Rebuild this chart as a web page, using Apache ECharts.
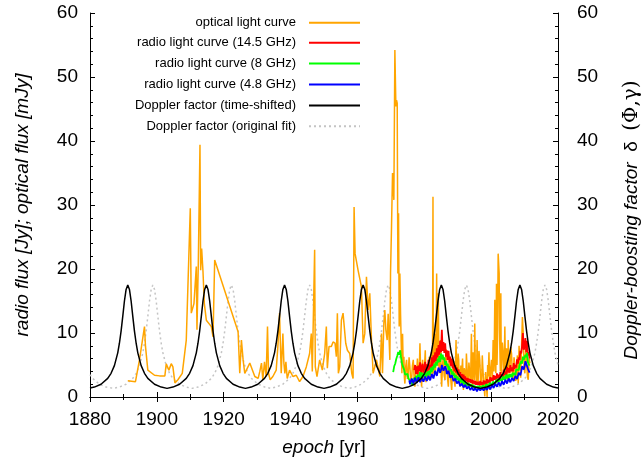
<!DOCTYPE html>
<html>
<head>
<meta charset="utf-8">
<script src="https://cdn.jsdelivr.net/npm/echarts@6/dist/echarts.min.js"></script>
<style>html,body{margin:0;padding:0;background:#fff}#c{width:642px;height:464px}</style>
</head>
<body>
<div id="c"></div>
<script>
// ---------- data ----------
const xTicks = [1880, 1900, 1920, 1940, 1960, 1980, 2000, 2020];
const yTicks = [0, 10, 20, 30, 40, 50, 60];
const seriesNames = [
  'optical light curve',
  'radio light curve (14.5 GHz)',
  'radio light curve (8 GHz)',
  'radio light curve (4.8 GHz)',
  'Doppler factor (time-shifted)',
  'Doppler factor (original fit)'
];

// optical light curve [year, mJy]
const optical = [
 [1891.3,2.55],[1893.6,2.4],[1894.8,5.8],[1896.3,11.0],[1896.6,7.9],[1897.3,4.2],[1899.3,3.4],[1900.8,3.3],
 [1902.4,3.3],[1902.8,5.2],[1903.6,4.2],[1904.3,5.2],[1904.8,4.7],[1905.3,5.0],[1905.4,2.2],[1906.3,2.7],
 [1907.6,3.7],[1908.8,8.9],[1910.0,29.5],[1910.3,13.1],[1911.1,14.6],[1911.8,20.4],[1912.0,10.5],[1912.4,20.9],
 [1912.9,39.4],[1913.1,19.8],[1913.4,23.2],[1913.8,19.6],[1914.2,14.6],[1914.8,12.0],[1916.3,11.0],[1916.8,9.4],
 [1917.3,21.4],[1924.3,10.2],[1924.8,3.7],[1925.3,8.9],[1925.8,5.8],[1926.3,3.7],[1927.8,5.3],[1929.3,3.2],
 [1930.3,2.9],[1930.8,4.0],[1931.3,5.3],[1931.7,2.7],[1932.2,5.5],[1932.7,3.2],[1933.1,11.0],[1933.4,3.7],
 [1933.9,2.7],[1934.7,3.2],[1935.7,4.2],[1936.2,7.9],[1936.7,13.1],[1937.2,3.7],[1937.7,9.9],[1938.0,5.3],
 [1938.3,3.7],[1938.6,5.5],[1939.0,2.9],[1939.7,4.2],[1940.7,3.2],[1941.7,3.4],[1942.7,2.4],[1943.7,3.2],
 [1944.7,4.7],[1945.7,6.8],[1946.2,9.9],[1946.5,4.0],[1946.9,4.2],[1947.2,23.0],[1947.4,4.7],[1947.9,3.2],
 [1948.7,5.8],[1949.5,4.2],[1950.2,6.8],[1950.7,11.0],[1951.0,4.5],[1951.5,7.9],[1952.2,7.9],[1952.7,8.6],
 [1953.3,8.4],[1953.7,6.3],[1954.0,13.1],[1954.3,3.7],[1954.7,4.7],[1955.2,12.0],[1955.7,13.1],[1956.2,13.1],
 [1956.5,8.4],[1957.0,7.3],[1957.7,6.8],[1958.3,3.7],[1958.7,2.9],[1959.0,29.7],[1959.3,22.4],[1960.2,19.8],
 [1961.2,17.2],[1961.7,8.4],[1962.2,9.9],[1962.7,18.8],[1963.2,13.6],[1963.7,16.2],[1964.2,8.9],[1964.7,3.7],
 [1965.7,5.8],[1966.7,3.2],[1967.2,9.9],[1967.5,3.7],[1967.9,11.5],[1968.2,13.6],[1968.5,10.5],[1968.9,8.9],
 [1969.2,13.0],[1969.7,5.8],[1969.9,19.3],[1970.2,26.6],[1970.5,35.0],[1970.9,30.8],[1971.2,54.2],[1971.5,45.4],
 [1971.7,46.4],[1971.9,45.9],[1972.1,19.3],[1972.3,28.7],[1972.5,11.0],[1972.7,19.3],[1972.9,13.0],
 [1973.3,3.7],[1973.5,9.9],[1973.7,4.5],[1973.9,6.3],[1974.05,3.0],[1974.2,2.1],[1974.45,4.8],[1974.7,5.8],
 [1974.95,2.8],[1975.2,3.7],[1975.45,6.2],[1975.7,4.7],[1975.95,2.2],[1976.2,2.7],[1976.45,4.9],[1976.7,5.8],
 [1976.95,3.1],[1977.2,1.6],[1977.45,4.4],[1977.7,3.7],[1977.95,6.0],[1978.2,4.2],[1978.45,2.6],[1978.7,8.4],
 [1978.95,3.3],[1979.2,1.6],[1979.35,4.2],[1979.5,5.8],[1979.7,2.4],[1979.9,3.7],[1980.1,5.2],[1980.3,7.3],
 [1980.5,2.3],[1980.7,3.2],[1980.95,5.1],[1981.2,2.7],[1981.35,4.5],[1981.5,6.3],[1981.7,2.9],[1981.9,3.7],
 [1982.1,7.0],[1982.3,5.3],[1982.45,3.0],[1982.6,31.3],[1982.7,4.5],[1982.8,3.7],[1983.0,7.5],[1983.2,9.9],
 [1983.35,4.0],[1983.5,6.3],[1983.6,12.0],[1983.7,19.3],[1983.85,5.5],[1984.0,8.9],[1984.1,4.8],[1984.2,16.2],
 [1984.35,6.0],[1984.5,3.7],[1984.7,7.2],[1984.9,8.9],[1985.05,3.5],[1985.2,1.6],[1985.45,5.0],[1985.7,6.3],
 [1985.95,3.3],[1986.2,2.7],[1986.45,7.5],[1986.7,5.8],[1986.95,2.9],[1987.2,1.6],[1987.45,5.5],[1987.7,4.2],
 [1987.95,2.5],[1988.2,1.1],[1988.45,4.0],[1988.7,5.8],[1988.95,2.7],[1989.2,1.6],[1989.35,5.0],[1989.5,8.9],
 [1989.7,2.8],[1989.9,3.7],[1990.1,6.8],[1990.3,5.8],[1990.5,2.5],[1990.7,1.6],[1990.95,4.9],[1991.2,3.7],
 [1991.45,6.0],[1991.7,1.1],[1991.95,4.5],[1992.2,3.7],[1992.4,1.8],[1992.6,6.8],[1992.85,3.9],[1993.1,1.6],
 [1993.35,5.4],[1993.6,3.7],[1993.85,2.2],[1994.1,9.9],[1994.25,4.0],[1994.4,1.6],[1994.6,7.0],[1994.8,4.7],
 [1994.95,2.6],[1995.1,11.5],[1995.25,5.2],[1995.4,3.7],[1995.6,2.0],[1995.8,8.9],[1995.95,4.2],[1996.1,2.1],
 [1996.35,7.2],[1996.6,5.8],[1996.85,2.5],[1997.1,1.1],[1997.35,6.5],[1997.6,3.7],[1997.85,1.9],[1998.1,0.1],
 [1998.35,3.9],[1998.6,1.6],[1998.8,0.0],[1998.95,5.0],[1999.1,3.2],[1999.35,7.0],[1999.6,1.1],[1999.85,4.4],
 [2000.1,5.8],[2000.35,2.6],[2000.6,8.9],[2000.85,4.0],[2001.1,15.2],[2001.25,6.0],[2001.4,3.7],[2001.6,17.7],
 [2001.75,5.0],[2001.9,8.9],[2002.1,22.4],[2002.4,19.3],[2002.5,10.5],[2002.6,7.9],[2002.75,4.0],[2002.9,16.2],
 [2003.0,6.5],[2003.1,3.7],[2003.35,8.5],[2003.6,6.8],[2003.85,2.8],[2004.1,11.0],[2004.25,5.0],[2004.4,3.7],
 [2004.6,7.6],[2004.8,5.8],[2004.95,2.4],[2005.1,8.9],[2005.35,4.5],[2005.6,3.7],[2005.85,7.8],[2006.1,6.8],
 [2006.35,3.2],[2006.6,2.7],[2006.85,6.2],[2007.1,4.7],[2007.35,2.5],[2007.6,3.7],[2007.85,6.5],[2008.1,2.1],
 [2008.35,8.0],[2008.6,5.8],[2008.85,3.0],[2009.1,7.9],[2009.35,12.5],[2009.6,9.9],[2009.85,4.6],[2010.1,3.7],
 [2010.35,7.5],[2010.6,5.8],[2010.85,3.2],[2011.1,2.7],[2011.35,6.0],[2011.6,5.3]
];

// radio 14.5 GHz [year, Jy]
const radio145 = [
 [1977.00,4.2],[1977.25,5.0],[1977.50,3.6],[1977.75,4.8],[1978.00,3.5],[1978.25,4.9],[1978.50,4.1],[1978.75,5.4],
 [1979.00,3.6],[1979.25,4.7],[1979.50,5.2],[1979.75,3.8],[1980.00,4.4],[1980.25,5.5],[1980.50,3.9],[1980.75,5.1],
 [1981.00,4.0],[1981.25,5.8],[1981.50,4.3],[1981.75,5.0],[1982.00,4.5],[1982.25,6.2],[1982.50,4.8],[1982.75,6.5],
 [1983.00,5.4],[1983.25,7.0],[1983.50,5.6],[1983.75,7.6],[1984.00,6.2],[1984.25,8.1],[1984.50,6.6],[1984.75,8.8],
 [1985.00,7.0],[1985.25,10.5],[1985.50,7.2],[1985.75,8.6],[1986.00,6.9],[1986.25,8.4],[1986.50,6.3],[1986.75,7.3],
 [1987.00,5.8],[1987.25,7.2],[1987.50,5.4],[1987.75,6.3],[1988.00,4.8],[1988.25,6.0],[1988.50,4.5],[1988.75,5.2],
 [1989.00,4.0],[1989.25,5.0],[1989.50,3.8],[1989.75,4.6],[1990.00,3.5],[1990.25,4.3],[1990.50,3.2],[1990.75,3.9],
 [1991.00,3.0],[1991.25,3.6],[1991.50,2.8],[1991.75,3.5],[1992.00,2.7],[1992.25,3.2],[1992.50,2.5],[1992.75,3.0],
 [1993.00,2.3],[1993.25,2.9],[1993.50,2.3],[1993.75,2.8],[1994.00,2.2],[1994.25,2.7],[1994.50,2.1],[1994.75,2.6],
 [1995.00,2.0],[1995.25,2.5],[1995.50,1.9],[1995.75,2.4],[1996.00,1.9],[1996.25,2.4],[1996.50,1.8],[1996.75,2.5],
 [1997.00,1.9],[1997.25,2.3],[1997.50,1.9],[1997.75,2.6],[1998.00,2.0],[1998.25,2.5],[1998.50,2.0],[1998.75,2.8],
 [1999.00,2.2],[1999.25,2.7],[1999.50,2.2],[1999.75,3.1],[2000.00,2.5],[2000.25,3.0],[2000.50,2.5],[2000.75,3.4],
 [2001.00,2.7],[2001.25,3.3],[2001.50,2.7],[2001.75,3.7],[2002.00,2.9],[2002.25,3.5],[2002.50,2.9],[2002.75,3.9],
 [2003.00,3.1],[2003.25,3.6],[2003.50,3.1],[2003.75,4.3],[2004.00,3.4],[2004.25,4.0],[2004.50,3.4],[2004.75,4.7],
 [2005.00,3.8],[2005.25,4.5],[2005.50,3.8],[2005.75,5.0],[2006.00,4.0],[2006.25,4.6],[2006.50,4.0],[2006.75,5.3],
 [2007.00,4.4],[2007.25,5.0],[2007.50,4.6],[2007.75,5.9],[2008.00,5.2],[2008.25,6.2],[2008.50,5.8],[2008.75,7.2],
 [2009.00,6.8],[2009.25,8.0],[2009.50,10.0],[2009.75,7.4],[2010.00,7.8],[2010.25,9.2],[2010.50,7.0],[2010.75,8.8],
 [2011.00,6.5],[2011.25,7.0],[2011.50,6.0]
];

// radio 8 GHz [year, Jy]
const radio8 = [
 [1970.7,3.9],[1971.0,4.8],[1971.3,5.2],[1971.6,5.9],[1971.9,6.4],[1972.2,7.0],[1972.5,6.6],[1972.8,7.3],
 [1973.0,6.3],[1973.2,6.0],[1973.4,5.1],[1973.6,4.8],[1973.8,5.0],[1974.0,4.2],[1974.25,3.5],[1974.5,3.3],
 [1974.75,3.8],[1975.0,3.6],[1975.25,2.9],[1975.5,2.7],[1975.75,3.0],[1976.0,2.4],[1976.25,2.1],[1976.5,1.8],
 [1976.75,2.6],
 [1977.00,3.0],[1977.25,2.4],[1977.50,3.3],[1977.75,2.6],[1978.00,3.5],[1978.25,2.6],[1978.50,3.2],[1978.75,3.9],
 [1979.00,3.0],[1979.25,3.8],[1979.50,3.0],[1979.75,3.7],[1980.00,3.9],[1980.25,3.1],[1980.50,3.8],[1980.75,3.2],
 [1981.00,4.0],[1981.25,3.4],[1981.50,4.1],[1981.75,3.5],[1982.00,4.6],[1982.25,3.9],[1982.50,4.8],[1982.75,4.2],
 [1983.00,5.2],[1983.25,4.6],[1983.50,5.5],[1983.75,4.9],[1984.00,6.0],[1984.25,5.4],[1984.50,6.4],[1984.75,5.5],
 [1985.00,6.8],[1985.25,5.9],[1985.50,6.6],[1985.75,5.8],[1986.00,6.2],[1986.25,5.0],[1986.50,5.6],[1986.75,4.8],
 [1987.00,5.2],[1987.25,4.2],[1987.50,4.8],[1987.75,4.0],[1988.00,4.4],[1988.25,3.5],[1988.50,4.0],[1988.75,3.3],
 [1989.00,3.7],[1989.25,2.9],[1989.50,3.4],[1989.75,2.7],[1990.00,3.2],[1990.25,2.5],[1990.50,2.9],[1990.75,2.3],
 [1991.00,2.8],[1991.25,2.2],[1991.50,2.6],[1991.75,2.0],[1992.00,2.5],[1992.25,1.9],[1992.50,2.3],[1992.75,1.7],
 [1993.00,2.2],[1993.25,1.7],[1993.50,2.1],[1993.75,1.6],[1994.00,2.0],[1994.25,1.5],[1994.50,1.9],[1994.75,1.4],
 [1995.00,1.8],[1995.25,1.4],[1995.50,1.7],[1995.75,1.3],[1996.00,1.7],[1996.25,1.3],[1996.50,1.7],[1996.75,1.4],
 [1997.00,1.7],[1997.25,1.4],[1997.50,1.8],[1997.75,1.5],[1998.00,1.8],[1998.25,1.5],[1998.50,2.0],[1998.75,1.7],
 [1999.00,2.0],[1999.25,1.7],[1999.50,2.2],[1999.75,1.9],[2000.00,2.3],[2000.25,1.9],[2000.50,2.4],[2000.75,2.1],
 [2001.00,2.5],[2001.25,2.1],[2001.50,2.7],[2001.75,2.3],[2002.00,2.8],[2002.25,2.3],[2002.50,2.9],[2002.75,2.5],
 [2003.00,2.9],[2003.25,2.5],[2003.50,3.2],[2003.75,2.7],[2004.00,3.2],[2004.25,2.7],[2004.50,3.5],[2004.75,2.9],
 [2005.00,3.5],[2005.25,2.9],[2005.50,3.6],[2005.75,3.1],[2006.00,3.6],[2006.25,3.1],[2006.50,3.8],[2006.75,3.4],
 [2007.00,3.8],[2007.25,3.4],[2007.50,4.3],[2007.75,4.0],[2008.00,4.4],[2008.25,4.2],[2008.50,5.0],[2008.75,4.8],
 [2009.00,5.6],[2009.25,5.2],[2009.50,6.3],[2009.75,5.8],[2010.00,5.8],[2010.25,6.6],[2010.50,6.2],[2010.75,6.9],
 [2011.00,5.4],[2011.25,5.6],[2011.50,4.9]
];

// radio 4.8 GHz [year, Jy]
const radio48 = [
 [1975.50,2.6],[1975.75,2.0],
 [1976.00,2.2],[1976.25,2.9],[1976.50,2.8],[1976.75,2.1],[1977.00,2.3],[1977.25,3.0],[1977.50,2.9],[1977.75,2.2],
 [1978.00,2.4],[1978.25,3.1],[1978.50,3.0],[1978.75,2.3],[1979.00,2.4],[1979.25,3.0],[1979.50,2.9],[1979.75,2.4],
 [1980.00,2.5],[1980.25,3.2],[1980.50,3.0],[1980.75,2.5],[1981.00,2.6],[1981.25,3.3],[1981.50,3.2],[1981.75,2.6],
 [1982.00,2.8],[1982.25,3.6],[1982.50,3.6],[1982.75,2.9],[1983.00,3.2],[1983.25,4.1],[1983.50,4.0],[1983.75,3.3],
 [1984.00,3.6],[1984.25,4.6],[1984.50,4.6],[1984.75,3.8],[1985.00,4.2],[1985.25,5.0],[1985.50,5.0],[1985.75,4.1],
 [1986.00,4.3],[1986.25,4.8],[1986.50,4.4],[1986.75,3.6],[1987.00,3.6],[1987.25,4.1],[1987.50,3.8],[1987.75,3.0],
 [1988.00,3.0],[1988.25,3.4],[1988.50,3.2],[1988.75,2.5],[1989.00,2.5],[1989.25,2.9],[1989.50,2.7],[1989.75,2.1],
 [1990.00,2.1],[1990.25,2.5],[1990.50,2.3],[1990.75,1.7],[1991.00,1.8],[1991.25,2.1],[1991.50,1.9],[1991.75,1.5],
 [1992.00,1.5],[1992.25,1.9],[1992.50,1.7],[1992.75,1.3],[1993.00,1.3],[1993.25,1.7],[1993.50,1.5],[1993.75,1.1],
 [1994.00,1.2],[1994.25,1.5],[1994.50,1.4],[1994.75,1.0],[1995.00,1.1],[1995.25,1.4],[1995.50,1.3],[1995.75,0.9],
 [1996.00,1.0],[1996.25,1.4],[1996.50,1.3],[1996.75,1.0],[1997.00,1.1],[1997.25,1.4],[1997.50,1.3],[1997.75,1.0],
 [1998.00,1.1],[1998.25,1.5],[1998.50,1.4],[1998.75,1.1],[1999.00,1.2],[1999.25,1.7],[1999.50,1.6],[1999.75,1.2],
 [2000.00,1.4],[2000.25,1.9],[2000.50,1.8],[2000.75,1.4],[2001.00,1.5],[2001.25,2.1],[2001.50,2.0],[2001.75,1.6],
 [2002.00,1.7],[2002.25,2.3],[2002.50,2.2],[2002.75,1.7],[2003.00,1.8],[2003.25,2.5],[2003.50,2.3],[2003.75,1.9],
 [2004.00,2.0],[2004.25,2.7],[2004.50,2.6],[2004.75,2.1],[2005.00,2.2],[2005.25,2.9],[2005.50,2.8],[2005.75,2.3],
 [2006.00,2.4],[2006.25,3.0],[2006.50,2.9],[2006.75,2.5],[2007.00,2.6],[2007.25,3.3],[2007.50,3.1],[2007.75,2.8],
 [2008.00,3.0],[2008.25,3.8],[2008.50,3.6],[2008.75,3.4],[2009.00,4.0],[2009.25,4.8],[2009.50,4.6],[2009.75,4.3],
 [2010.00,4.8],[2010.25,5.6],[2010.50,5.2],[2010.75,4.9],[2011.00,4.4],[2011.25,4.6],[2011.50,3.8]
];

// Doppler factor, time-shifted [year, delta]
const dopplerShifted = [
 [1880.0,1.40],[1881.3,1.55],[1883.3,2.0],[1885.3,2.9],[1886.3,3.7],[1887.3,4.9],[1888.3,6.9],[1888.8,8.4],
 [1889.3,10.3],[1889.8,12.6],[1890.3,15.0],[1890.8,16.8],[1891.3,17.5],[1891.8,16.8],[1892.3,15.0],[1892.8,12.6],
 [1893.3,10.3],[1893.8,8.4],[1894.3,6.9],[1895.3,4.9],[1896.3,3.7],[1897.3,2.9],[1899.3,2.0],[1901.3,1.55],
 [1903.05,1.35],
 [1904.8,1.55],[1906.8,2.0],[1908.8,2.9],[1909.8,3.7],[1910.8,4.9],[1911.8,6.9],[1912.3,8.4],[1912.8,10.3],
 [1913.3,12.6],[1913.8,15.0],[1914.3,16.8],[1914.8,17.5],[1915.3,16.8],[1915.8,15.0],[1916.3,12.6],[1916.8,10.3],
 [1917.3,8.4],[1917.8,6.9],[1918.8,4.9],[1919.8,3.7],[1920.8,2.9],[1922.8,2.0],[1924.8,1.55],
 [1926.5,1.35],
 [1928.2,1.55],[1930.2,2.0],[1932.2,2.9],[1933.2,3.7],[1934.2,4.9],[1935.2,6.9],[1935.7,8.4],[1936.2,10.3],
 [1936.7,12.6],[1937.2,15.0],[1937.7,16.8],[1938.2,17.5],[1938.7,16.8],[1939.2,15.0],[1939.7,12.6],[1940.2,10.3],
 [1940.7,8.4],[1941.2,6.9],[1942.2,4.9],[1943.2,3.7],[1944.2,2.9],[1946.2,2.0],[1948.2,1.55],
 [1950.0,1.35],
 [1951.7,1.55],[1953.7,2.0],[1955.7,2.9],[1956.7,3.7],[1957.7,4.9],[1958.7,6.9],[1959.2,8.4],[1959.7,10.3],
 [1960.2,12.6],[1960.7,15.0],[1961.2,16.8],[1961.7,17.5],[1962.2,16.8],[1962.7,15.0],[1963.2,12.6],[1963.7,10.3],
 [1964.2,8.4],[1964.7,6.9],[1965.7,4.9],[1966.7,3.7],[1967.7,2.9],[1969.7,2.0],[1971.7,1.55],
 [1973.4,1.35],
 [1975.1,1.55],[1977.1,2.0],[1979.1,2.9],[1980.1,3.7],[1981.1,4.9],[1982.1,6.9],[1982.6,8.4],[1983.1,10.3],
 [1983.6,12.6],[1984.1,15.0],[1984.6,16.8],[1985.1,17.5],[1985.6,16.8],[1986.1,15.0],[1986.6,12.6],[1987.1,10.3],
 [1987.6,8.4],[1988.1,6.9],[1989.1,4.9],[1990.1,3.7],[1991.1,2.9],[1993.1,2.0],[1995.1,1.55],
 [1996.85,1.35],
 [1998.6,1.55],[2000.6,2.0],[2002.6,2.9],[2003.6,3.7],[2004.6,4.9],[2005.6,6.9],[2006.1,8.4],[2006.6,10.3],
 [2007.1,12.6],[2007.6,15.0],[2008.1,16.8],[2008.6,17.5],[2009.1,16.8],[2009.6,15.0],[2010.1,12.6],[2010.6,10.3],
 [2011.1,8.4],[2011.6,6.9],[2012.6,4.9],[2013.6,3.7],[2014.6,2.9],[2016.6,2.0],[2018.6,1.55],[2020.0,1.42]
];

// Doppler factor, original fit [year, delta]
const dopplerOriginal = [
 [1880.0,3.5],[1880.8,2.9],[1882.8,2.0],[1884.8,1.55],[1887.05,1.35],
 [1888.8,1.55],[1890.8,2.0],[1892.8,2.9],[1893.8,3.7],[1894.8,4.9],[1895.8,6.9],[1896.3,8.4],[1896.8,10.3],
 [1897.3,12.6],[1897.8,15.0],[1898.3,16.8],[1898.8,17.5],[1899.3,16.8],[1899.8,15.0],[1900.3,12.6],[1900.8,10.3],
 [1901.3,8.4],[1901.8,6.9],[1902.8,4.9],[1903.8,3.7],[1904.8,2.9],[1906.8,2.0],[1908.8,1.55],[1910.55,1.35],
 [1912.3,1.55],[1914.3,2.0],[1916.3,2.9],[1917.3,3.7],[1918.3,4.9],[1919.3,6.9],[1919.8,8.4],[1920.3,10.3],
 [1920.8,12.6],[1921.3,15.0],[1921.8,16.8],[1922.3,17.5],[1922.8,16.8],[1923.3,15.0],[1923.8,12.6],[1924.3,10.3],
 [1924.8,8.4],[1925.3,6.9],[1926.3,4.9],[1927.3,3.7],[1928.3,2.9],[1930.3,2.0],[1932.3,1.55],[1934.0,1.35],
 [1935.7,1.55],[1937.7,2.0],[1939.7,2.9],[1940.7,3.7],[1941.7,4.9],[1942.7,6.9],[1943.2,8.4],[1943.7,10.3],
 [1944.2,12.6],[1944.7,15.0],[1945.2,16.8],[1945.7,17.5],[1946.2,16.8],[1946.7,15.0],[1947.2,12.6],[1947.7,10.3],
 [1948.2,8.4],[1948.7,6.9],[1949.7,4.9],[1950.7,3.7],[1951.7,2.9],[1953.7,2.0],[1955.7,1.55],[1957.45,1.35],
 [1959.2,1.55],[1961.2,2.0],[1963.2,2.9],[1964.2,3.7],[1965.2,4.9],[1966.2,6.9],[1966.7,8.4],[1967.2,10.3],
 [1967.7,12.6],[1968.2,15.0],[1968.7,16.8],[1969.2,17.5],[1969.7,16.8],[1970.2,15.0],[1970.7,12.6],[1971.2,10.3],
 [1971.7,8.4],[1972.2,6.9],[1973.2,4.9],[1974.2,3.7],[1975.2,2.9],[1977.2,2.0],[1979.2,1.55],[1980.9,1.35],
 [1982.6,1.55],[1984.6,2.0],[1986.6,2.9],[1987.6,3.7],[1988.6,4.9],[1989.6,6.9],[1990.1,8.4],[1990.6,10.3],
 [1991.1,12.6],[1991.6,15.0],[1992.1,16.8],[1992.6,17.5],[1993.1,16.8],[1993.6,15.0],[1994.1,12.6],[1994.6,10.3],
 [1995.1,8.4],[1995.6,6.9],[1996.6,4.9],[1997.6,3.7],[1998.6,2.9],[2000.6,2.0],[2002.6,1.55],[2004.35,1.35],
 [2006.1,1.55],[2008.1,2.0],[2010.1,2.9],[2011.1,3.7],[2012.1,4.9],[2013.1,6.9],[2013.6,8.4],[2014.1,10.3],
 [2014.6,12.6],[2015.1,15.0],[2015.6,16.8],[2016.1,17.5],[2016.6,16.8],[2017.1,15.0],[2017.6,12.6],[2018.1,10.3],
 [2018.6,8.4],[2019.1,6.9],[2020.0,5.0]
];

// ---------- chart ----------
const FONT = '"Liberation Sans", Arial, Helvetica, sans-serif';
const chart = echarts.init(document.getElementById('c'), null, {renderer: 'canvas'});

const tickCommon = {
  axisLine: {show: true, lineStyle: {color: '#000', width: 1}},
  axisTick: {show: true, inside: true, length: 5, lineStyle: {color: '#000', width: 1}},
  splitLine: {show: false}
};

const legendRows = [23.3, 43.3, 64, 85, 106, 126.7];
const legends = seriesNames.map((n, i) => ({
  data: [n],
  right: 281,
  top: legendRows[i] - 7,
  orient: 'horizontal',
  align: 'right',
  itemWidth: 51,
  itemHeight: 14,
  padding: 0,
  selectedMode: false,
  itemStyle: {opacity: 0},
  textStyle: {fontSize: 13, color: '#000', fontFamily: FONT, padding: [0, 8, 0, 0]}
}));

function lineSeries(name, data, color, width, z, extra) {
  return Object.assign({
    name: name, type: 'line', data: data,
    xAxisIndex: 0, yAxisIndex: 0,
    showSymbol: false, symbol: 'none', smooth: false,
    animation: false, z: z,
    lineStyle: {color: color, width: width},
    itemStyle: {color: color}
  }, extra || {});
}

chart.setOption({
  animation: false,
  backgroundColor: '#fff',
  legend: legends,
  grid: {left: 90, right: 84, top: 13, bottom: 67, containLabel: false, outerBoundsMode: 'none'},
  xAxis: [
    Object.assign({
      type: 'value', position: 'bottom', min: xTicks[0], max: xTicks[xTicks.length - 1], interval: 20,
      minorTick: {show: true, splitNumber: 2, length: 3, lineStyle: {color: '#000'}},
      axisLabel: {fontSize: 19, color: '#000', fontFamily: FONT, margin: 13, formatter: v => String(v)},
      name: '{i|epoch} [yr]', nameLocation: 'middle', nameGap: 41,
      nameTextStyle: {fontSize: 19, color: '#000', fontFamily: FONT,
        rich: {i: {fontSize: 19, fontStyle: 'italic', fontFamily: FONT, color: '#000'}}}
    }, tickCommon),
    Object.assign({
      type: 'value', position: 'top', min: xTicks[0], max: xTicks[xTicks.length - 1], interval: 20,
      minorTick: {show: true, splitNumber: 2, length: 3, lineStyle: {color: '#000'}},
      axisLabel: {show: false}
    }, tickCommon)
  ],
  yAxis: [
    Object.assign({
      type: 'value', position: 'left', min: yTicks[0], max: yTicks[yTicks.length - 1], interval: 10,
      minorTick: {show: true, splitNumber: 5, length: 3, lineStyle: {color: '#000'}},
      axisLabel: {fontSize: 19, color: '#000', fontFamily: FONT, margin: 12},
      name: 'radio flux [Jy]; optical flux [mJy]', nameLocation: 'middle', nameGap: 58, nameRotate: 90,
      nameTextStyle: {fontSize: 19, color: '#000', fontFamily: FONT, fontStyle: 'italic'}
    }, tickCommon),
    Object.assign({
      type: 'value', position: 'right', min: yTicks[0], max: yTicks[yTicks.length - 1], interval: 10,
      minorTick: {show: true, splitNumber: 5, length: 3, lineStyle: {color: '#000'}},
      axisLabel: {fontSize: 19, color: '#000', fontFamily: FONT, margin: 19},
      name: '{i|Doppler-boosting factor}  {n|\u03b4}  {s|(\u03a6,\u03b3)}', nameLocation: 'middle', nameGap: 64, nameRotate: 90,
      nameTextStyle: {fontSize: 19, color: '#000', fontFamily: FONT, padding: [0, 30, 0, 0],
        rich: {
          i: {fontSize: 19, fontStyle: 'italic', fontFamily: FONT, color: '#000'},
          n: {fontSize: 19, fontFamily: FONT, color: '#000'},
          s: {fontSize: 20, fontFamily: '"DejaVu Serif", serif', color: '#000'}
        }}
    }, tickCommon)
  ],
  series: [
    lineSeries(seriesNames[5], dopplerOriginal, '#c4c4c4', 1.5, 1, {lineStyle: {color: '#c4c4c4', width: 1.5, type: [2, 3]}}),
    lineSeries(seriesNames[0], optical, '#ffa500', 1.5, 2),
    lineSeries(seriesNames[1], radio145, '#ff0000', 1.8, 3),
    lineSeries(seriesNames[2], radio8, '#00ff00', 1.8, 4),
    lineSeries(seriesNames[3], radio48, '#0000ff', 1.8, 5),
    lineSeries(seriesNames[4], dopplerShifted, '#000000', 1.5, 6)
  ]
});
</script>
</body>
</html>
